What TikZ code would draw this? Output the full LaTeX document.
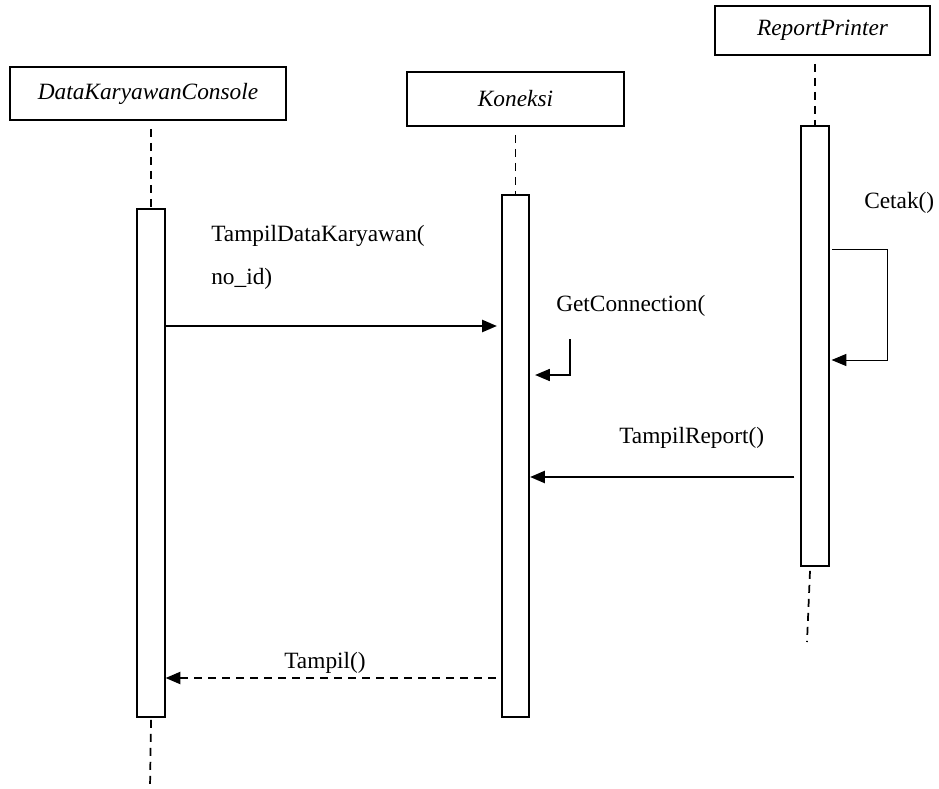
\documentclass[tikz,border=0pt]{standalone}
\usepackage{fontspec}
\setmainfont{Liberation Serif}
\usetikzlibrary{arrows.meta,calc}
\begin{document}
\begin{tikzpicture}[x=0.75pt,y=-0.75pt,
  lbl/.style={font=\fontsize{17.5}{21}\selectfont, inner sep=0pt},
  objbox/.style={draw, line width=1.4pt, inner sep=0pt, font=\fontsize{17.5}{21}\selectfont\itshape},
  actbar/.style={draw, line width=1.4pt, fill=white, inner sep=0pt, minimum width=20.5pt},
  life/.style={line width=1.3pt, dash pattern=on 6pt off 4.5pt},
  tip/.style={-{Triangle[length=11pt,width=9pt]}},
  msg/.style={tip, line width=1.5pt},
  reply/.style={tip, line width=1.5pt, dash pattern=on 6pt off 4.5pt},
  selfmsg/.style={tip, line width=1.1pt},
  loopmsg/.style={tip, line width=0.75pt}]
\useasboundingbox[fill=white] (0,0) rectangle (939,789);

% participants
\node[objbox, minimum width=207pt, minimum height=39.75pt] (console) at (148,93.5) {DataKaryawanConsole};
\node[objbox, minimum width=162.75pt, minimum height=40.5pt] (koneksi) at (515.5,99) {Koneksi};
\node[objbox, minimum width=161.25pt, minimum height=36.75pt] (printer) at (822.5,30.5) {ReportPrinter};

% activation bars
\node[actbar, minimum height=381pt] (barA) at (151,463) {};
\node[actbar, minimum height=391.5pt] (barB) at (515.5,456) {};
\node[actbar, minimum height=330pt] (barC) at (815,346) {};

% lifelines
\draw[life] ($(barA.north |- console.south)+(0,8)$) -- (barA.north);
\draw[life] ($(barB.north |- koneksi.south)+(0,8)$) -- (barB.north);
\draw[life] ($(barC.north |- printer.south)+(0,8)$) -- (barC.north);
\coordinate (endA) at (150,789);
\coordinate (endC) at (807,642);
\draw[life] ($(barA.south)+(0,2)$) -- (endA);
\draw[life] ($(barC.south)+(-5,4)$) -- (endC);

% y levels of the messages
\coordinate (yA) at (0,326);
\coordinate (yB1) at (0,339);
\coordinate (yB2) at (0,375);
\coordinate (yC1) at (0,249);
\coordinate (yC2) at (0,360);
\coordinate (yD) at (0,477);
\coordinate (yE) at (0,678);

% TampilDataKaryawan(no_id)
\draw[msg] (barA.east |- yA) -- ($(barB.west |- yA)+(-4,0)$);
\node[lbl, anchor=west] (m1a) at (211,236) {TampilDataKaryawan(};
\node[lbl, anchor=west] (m1b) at (211,279) {no\_id)};

% GetConnection(
\coordinate (gcTop) at (570,339);
\draw[selfmsg] (gcTop) |- ($(barB.east |- yB2)+(5,0)$);
\node[lbl, anchor=west] (m2) at (556,306) {GetConnection(};

% Cetak()
\coordinate (ckOut) at (832,249);
\coordinate (ckCorner) at (887,249);
\draw[loopmsg] (ckOut) -- (ckCorner) |- ($(barC.east |- yC2)+(2,0)$);
\node[lbl, anchor=west] (m3) at (864,203) {Cetak()};

% TampilReport()
\draw[msg] ($(barC.west |- yD)+(-6,0)$) -- (barB.east |- yD);
\node[lbl, anchor=west] (m4) at (619,438) {TampilReport()};

% Tampil()
\draw[reply] ($(barB.west |- yE)+(-5,0)$) -- (barA.east |- yE);
\node[lbl] (m5) at (325,663) {Tampil()};
\end{tikzpicture}
\end{document}
